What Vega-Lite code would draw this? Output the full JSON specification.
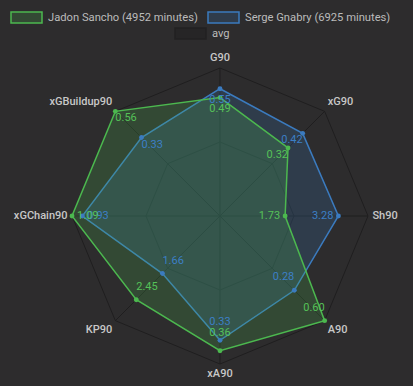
{
  "$schema": "https://vega.github.io/schema/vega-lite/v6.json",
  "width": 413,
  "height": 386,
  "autosize": "none",
  "padding": 0,
  "background": "#2d2c2d",
  "config": {"view": {"stroke": null}, "font": "Roboto"},
  "datasets": {
    "axes": [
      {"stat": "G90", "idx": 0},
      {"stat": "xG90", "idx": 1},
      {"stat": "Sh90", "idx": 2},
      {"stat": "A90", "idx": 3},
      {"stat": "xA90", "idx": 4},
      {"stat": "KP90", "idx": 5},
      {"stat": "xGChain90", "idx": 6},
      {"stat": "xGBuildup90", "idx": 7}
    ],
    "avg": [
      {"series": "avg", "stat": "G90", "idx": 0, "pct": 0.5},
      {"series": "avg", "stat": "xG90", "idx": 1, "pct": 0.5},
      {"series": "avg", "stat": "Sh90", "idx": 2, "pct": 0.5},
      {"series": "avg", "stat": "A90", "idx": 3, "pct": 0.5},
      {"series": "avg", "stat": "xA90", "idx": 4, "pct": 0.5},
      {"series": "avg", "stat": "KP90", "idx": 5, "pct": 0.5},
      {"series": "avg", "stat": "xGChain90", "idx": 6, "pct": 0.5},
      {"series": "avg", "stat": "xGBuildup90", "idx": 7, "pct": 0.5}
    ],
    "players": [
      {"player": "Serge Gnabry (6925 minutes)", "stat": "G90", "idx": 0, "value": 0.55, "pct": 0.86},
      {"player": "Serge Gnabry (6925 minutes)", "stat": "xG90", "idx": 1, "value": 0.42, "pct": 0.79},
      {"player": "Serge Gnabry (6925 minutes)", "stat": "Sh90", "idx": 2, "value": 3.28, "pct": 0.80},
      {"player": "Serge Gnabry (6925 minutes)", "stat": "A90", "idx": 3, "value": 0.28, "pct": 0.71},
      {"player": "Serge Gnabry (6925 minutes)", "stat": "xA90", "idx": 4, "value": 0.33, "pct": 0.84},
      {"player": "Serge Gnabry (6925 minutes)", "stat": "KP90", "idx": 5, "value": 1.66, "pct": 0.55},
      {"player": "Serge Gnabry (6925 minutes)", "stat": "xGChain90", "idx": 6, "value": 0.93, "pct": 0.93},
      {"player": "Serge Gnabry (6925 minutes)", "stat": "xGBuildup90", "idx": 7, "value": 0.33, "pct": 0.75},
      {"player": "Jadon Sancho (4952 minutes)", "stat": "G90", "idx": 0, "value": 0.49, "pct": 0.80},
      {"player": "Jadon Sancho (4952 minutes)", "stat": "xG90", "idx": 1, "value": 0.32, "pct": 0.65},
      {"player": "Jadon Sancho (4952 minutes)", "stat": "Sh90", "idx": 2, "value": 1.73, "pct": 0.44},
      {"player": "Jadon Sancho (4952 minutes)", "stat": "A90", "idx": 3, "value": 0.60, "pct": 1.0},
      {"player": "Jadon Sancho (4952 minutes)", "stat": "xA90", "idx": 4, "value": 0.36, "pct": 0.91},
      {"player": "Jadon Sancho (4952 minutes)", "stat": "KP90", "idx": 5, "value": 2.45, "pct": 0.80},
      {"player": "Jadon Sancho (4952 minutes)", "stat": "xGChain90", "idx": 6, "value": 1.09, "pct": 1.0},
      {"player": "Jadon Sancho (4952 minutes)", "stat": "xGBuildup90", "idx": 7, "value": 0.56, "pct": 1.0}
    ]
  },
  "encoding": {
    "x": {"field": "px", "type": "quantitative", "scale": {"domain": [-1.4865, 1.3041], "nice": false, "zero": false}, "axis": null},
    "y": {"field": "py", "type": "quantitative", "scale": {"domain": [-1.1486, 1.4595], "nice": false, "zero": false}, "axis": null}
  },
  "layer": [
    {
      "data": {"name": "axes"},
      "transform": [
        {"calculate": "PI/2 - datum.idx*PI/4", "as": "ang"},
        {"calculate": "0", "as": "px"},
        {"calculate": "0", "as": "py"},
        {"calculate": "cos(datum.ang)", "as": "ex"},
        {"calculate": "sin(datum.ang)", "as": "ey"}
      ],
      "mark": {"type": "rule", "color": "#1f1e1f", "strokeWidth": 1},
      "encoding": {"x2": {"field": "ex"}, "y2": {"field": "ey"}}
    },
    {
      "data": {"name": "axes"},
      "transform": [
        {"calculate": "PI/2 - datum.idx*PI/4", "as": "ang"},
        {"calculate": "cos(datum.ang)", "as": "px"},
        {"calculate": "sin(datum.ang)", "as": "py"}
      ],
      "mark": {"type": "line", "interpolate": "linear-closed", "color": "#1f1e1f", "strokeWidth": 1},
      "encoding": {"order": {"field": "idx"}}
    },
    {
      "data": {"name": "avg"},
      "transform": [
        {"calculate": "PI/2 - datum.idx*PI/4", "as": "ang"},
        {"calculate": "cos(datum.ang)*datum.pct", "as": "px"},
        {"calculate": "sin(datum.ang)*datum.pct", "as": "py"}
      ],
      "mark": {"type": "line", "interpolate": "linear-closed", "strokeWidth": 1},
      "encoding": {
        "order": {"field": "idx"},
        "color": {
          "field": "series", "type": "nominal",
          "scale": {"domain": ["avg"], "range": ["#222122"]},
          "legend": {
            "title": null, "orient": "none", "legendX": 174, "legendY": 17, "padding": 0,
            "symbolType": "M-1,-0.35L1,-0.35L1,0.35L-1,0.35Z", "symbolSize": 961,
            "symbolFillColor": "#262526", "symbolStrokeColor": "#262526",
            "labelColor": "#bbbbbb", "labelFontSize": 11.2, "labelFont": "Roboto", "labelOffset": 5
          }
        }
      }
    },
    {
      "data": {"name": "players"},
      "transform": [
        {"calculate": "PI/2 - datum.idx*PI/4", "as": "ang"},
        {"calculate": "cos(datum.ang)*datum.pct", "as": "px"},
        {"calculate": "sin(datum.ang)*datum.pct", "as": "py"}
      ],
      "mark": {"type": "line", "interpolate": "linear-closed", "strokeWidth": 1.5},
      "encoding": {
        "order": {"field": "idx"},
        "stroke": {
          "field": "player", "type": "nominal",
          "scale": {"domain": ["Jadon Sancho (4952 minutes)", "Serge Gnabry (6925 minutes)"], "range": ["#4cb84f", "#3b7bbf"]},
          "legend": {
            "title": null, "orient": "none", "legendX": 10, "legendY": 1, "padding": 0, "direction": "horizontal",
            "symbolType": "M-1,-0.35L1,-0.35L1,0.35L-1,0.35Z", "symbolSize": 961, "symbolStrokeWidth": 1.5,
            "symbolFillColor": "#000000", "symbolStrokeColor": "#888888",
            "labelColor": "#bbbbbb", "labelFontSize": 11.2, "labelFont": "Roboto", "labelOffset": 5, "columnPadding": 7,
            "labelLimit": 300
          }
        },
        "fill": {
          "field": "player", "type": "nominal",
          "scale": {"domain": ["Jadon Sancho (4952 minutes)", "Serge Gnabry (6925 minutes)"], "range": ["rgba(76,184,79,0.21)", "rgba(59,123,191,0.21)"]},
          "legend": {
            "title": null, "orient": "none", "legendX": 10, "legendY": 1, "padding": 0, "direction": "horizontal",
            "symbolType": "M-1,-0.35L1,-0.35L1,0.35L-1,0.35Z", "symbolSize": 961, "symbolStrokeWidth": 1.5,
            "symbolFillColor": "#000000", "symbolStrokeColor": "#888888",
            "labelColor": "#bbbbbb", "labelFontSize": 11.2, "labelFont": "Roboto", "labelOffset": 5, "columnPadding": 7,
            "labelLimit": 300
          }
        }
      }
    },
    {
      "data": {"name": "players"},
      "transform": [
        {"calculate": "PI/2 - datum.idx*PI/4", "as": "ang"},
        {"calculate": "cos(datum.ang)*datum.pct", "as": "px"},
        {"calculate": "sin(datum.ang)*datum.pct", "as": "py"}
      ],
      "mark": {"type": "circle", "size": 24, "opacity": 1},
      "encoding": {
        "color": {
          "field": "player", "type": "nominal",
          "scale": {"domain": ["Jadon Sancho (4952 minutes)", "Serge Gnabry (6925 minutes)"], "range": ["#4cb84f", "#3b7bbf"]},
          "legend": null
        }
      }
    },
    {
      "data": {"name": "players"},
      "transform": [
        {"calculate": "PI/2 - datum.idx*PI/4", "as": "ang"},
        {"calculate": "cos(datum.ang)*datum.pct", "as": "px"},
        {"calculate": "sin(datum.ang)*datum.pct", "as": "py"}
      ],
      "mark": {
        "type": "text", "fontSize": 11, "font": "Roboto",
        "align": {"expr": "datum.idx==0||datum.idx==4 ? 'center' : (datum.idx<4 ? 'right' : 'left')"},
        "baseline": "middle",
        "dx": {"expr": "datum.idx==2 ? -5 : (datum.idx==6 ? 5 : 0)"},
        "dy": {"expr": "datum.idx==0 ? 11 : (datum.idx==1||datum.idx==7 ? 7 : (datum.idx==2||datum.idx==6 ? 0 : (datum.idx==4 ? -18 : -13)))"}
      },
      "encoding": {
        "text": {"field": "value", "type": "quantitative", "format": ".2f"},
        "color": {
          "field": "player", "type": "nominal",
          "scale": {"domain": ["Jadon Sancho (4952 minutes)", "Serge Gnabry (6925 minutes)"], "range": ["#55c158", "#3c7fc6"]},
          "legend": null
        }
      }
    },
    {
      "data": {"name": "axes"},
      "transform": [
        {"calculate": "PI/2 - datum.idx*PI/4", "as": "ang"},
        {"calculate": "cos(datum.ang)*1.03", "as": "px"},
        {"calculate": "sin(datum.ang)*1.03 + (abs(sin(datum.ang))>0.1 ? (sin(datum.ang)>0 ? 0.04 : -0.04) : 0)", "as": "py"}
      ],
      "mark": {
        "type": "text", "fontSize": 11, "font": "Roboto", "fontWeight": 500, "color": "#c8c8c8",
        "align": {"expr": "datum.idx==0||datum.idx==4 ? 'center' : (datum.idx<4 ? 'left' : 'right')"},
        "baseline": "middle"
      },
      "encoding": {"text": {"field": "stat"}}
    }
  ],
  "resolve": {"scale": {"color": "independent"}, "legend": {"color": "independent"}}
}
